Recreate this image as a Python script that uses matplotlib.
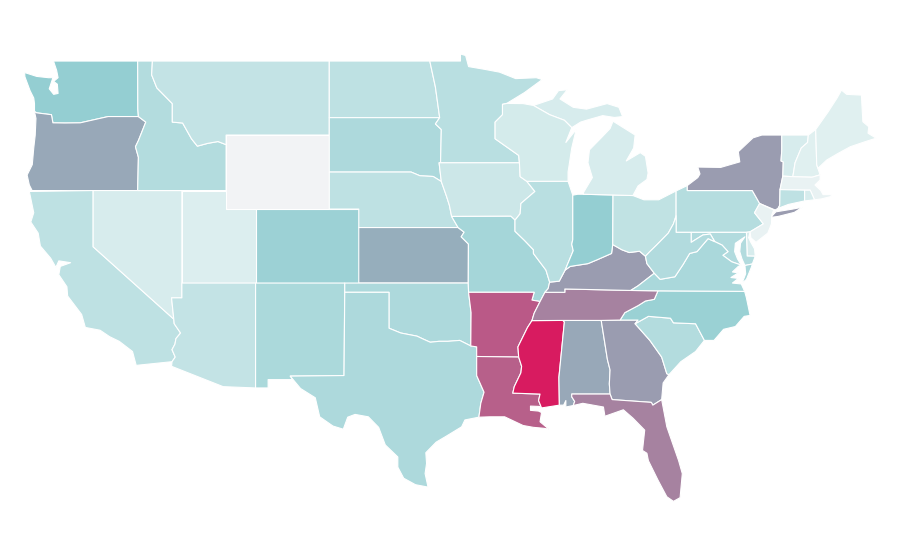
import matplotlib
matplotlib.use("Agg")
import matplotlib.pyplot as plt
from matplotlib.colors import LinearSegmentedColormap, Normalize

# ---- shared borders (lon, lat) ----
STCROIX = [(-92.01,46.71),(-92.3,46.66),(-92.3,46.1),(-92.8,45.7),(-92.8,44.8),(-91.2,43.9),(-91.15,43.5)]
MISS_A = [(-91.15,43.5),(-91.1,42.75),(-90.65,42.5)]
MISS_B = [(-90.65,42.5),(-90.1,41.95),(-91.05,41.3),(-91.1,40.75),(-91.45,40.4)]
MISS_C = [(-91.45,40.4),(-91.45,39.8),(-90.8,39.3),(-90.2,38.8),(-90.2,38.6),(-89.35,37.7),(-89.1,37.05)]
MISS_D = [(-89.1,37.05),(-89.2,36.7),(-89.42,36.5)]
MISS_E = [(-89.42,36.5),(-89.75,36.0)]
MISS_F = [(-89.75,36.0),(-90.15,35.37),(-90.3,34.97)]
MISS_G = [(-90.3,34.97),(-90.6,34.6),(-91.25,33.55),(-91.2,33.0)]
MISS_H = [(-91.2,33.0),(-91.0,32.5),(-91.05,32.15),(-91.5,31.4),(-91.6,31.05)]
OHIO_W = [(-84.82,39.08),(-84.9,38.6),(-85.9,38.25),(-86.5,38.05),(-87.7,37.9),(-88.05,37.7)]
OHIO_X = [(-88.05,37.7),(-88.45,37.1),(-89.1,37.05)]
OHIO_E = [(-82.6,38.45),(-83.0,38.72),(-83.7,38.65),(-84.2,38.8),(-84.82,39.08)]
OHIO_WV = [(-80.52,40.64),(-80.7,40.2),(-81.05,39.7),(-81.85,39.05),(-82.3,38.7),(-82.6,38.45)]
WABASH = [(-87.53,39.35),(-87.6,39.1),(-87.5,38.75),(-88.05,37.7)]
COLUMBIA = [(-117.0,46.0),(-119.05,46.0),(-120.95,45.66),(-122.0,45.65),(-122.8,45.66),(-122.9,46.1),(-123.9,46.2),(-124.05,46.27)]
SNAKE = [(-117.04,46.42),(-117.0,46.0),(-116.5,45.7),(-116.8,45.1),(-117.0,44.7),(-117.2,44.37),(-117.0,43.8),(-117.05,42.0)]
BITTER = [(-116.05,49.0),(-116.1,48.25),(-115.75,47.55),(-114.7,46.7),(-114.7,45.7),(-114.0,45.65),(-113.4,44.8),(-113.0,44.4),(-112.3,44.55),(-111.6,44.65),(-111.05,44.48)]
COLORADO = [(-114.75,36.2),(-114.6,35.05),(-114.57,34.8),(-114.14,34.3),(-114.45,34.0),(-114.52,33.7),(-114.72,33.4),(-114.5,33.0),(-114.72,32.75)]
MISSOURI_SD = [(-96.45,42.49),(-97.0,42.76),(-97.9,42.8),(-98.5,43.0)]
MISSOURI_IA = [(-96.45,42.49),(-96.1,41.7),(-95.9,41.2),(-95.75,40.6)]
MISSOURI_KS = [(-95.31,40.0),(-94.9,39.75),(-95.1,39.5),(-94.61,39.11)]
RED = [(-94.45,33.6),(-95.2,33.9),(-96.0,33.85),(-96.6,33.85),(-97.2,33.8),(-97.7,33.98),(-98.1,34.13),(-99.2,34.3),(-100.0,34.56)]
SABINE = [(-94.05,32.0),(-93.55,31.1),(-93.77,30.5),(-93.9,29.75)]
CHATT = [(-85.6,34.98),(-85.18,32.87),(-85.0,32.3),(-85.05,31.55),(-85.0,31.0)]
SAVANNAH = [(-83.3,34.8),(-82.3,33.9),(-81.5,33.0),(-81.15,32.1),(-81.0,32.05)]
NC_SC = [(-83.3,34.8),(-82.4,35.2),(-80.9,35.1),(-80.7,34.85),(-79.2,34.8),(-78.6,33.9)]
TN_NC = [(-84.32,35.0),(-84.0,35.4),(-83.1,35.78),(-82.6,36.03),(-82.0,36.12),(-81.75,36.58)]
KY_TOP_S = [(-83.6,36.6),(-88.07,36.68),(-88.07,36.5),(-89.42,36.5)]
KY_VA = [(-83.6,36.6),(-83.1,36.85),(-82.0,37.53)]
KY_WV = [(-82.0,37.53),(-82.5,38.05),(-82.6,38.45)]
VA_WV = [(-82.0,37.53),(-81.6,37.2),(-80.6,37.34),(-80.05,38.0),(-79.6,38.6),(-79.1,38.7),(-78.35,39.4),(-77.9,39.24)]
POTOMAC = [(-77.9,39.24),(-77.4,39.05),(-77.0,38.7),(-77.35,38.5),(-76.75,38.15),(-76.1,37.97)]
MD_WV = [(-77.9,39.24),(-78.2,39.65),(-78.7,39.6),(-79.5,39.2),(-79.5,39.74)]
CONN_R = [(-71.55,45.0),(-71.6,44.6),(-72.03,44.3),(-72.45,43.5),(-72.6,42.75)]
NY_VT = [(-73.35,45.0),(-73.35,44.2),(-73.4,43.6),(-73.25,43.55),(-73.28,42.78)]
NY_CT = [(-73.47,42.05),(-73.49,41.2),(-73.6,41.04)]
DELAWARE = [(-75.35,42.0),(-74.85,41.3),(-75.2,40.8),(-74.6,40.2),(-75.5,39.77)]
NH_ME = [(-71.05,45.3),(-70.98,43.4),(-70.9,43.2)]
MI_WI = [(-90.2,46.6),(-89.1,46.1),(-88.1,45.8),(-87.6,45.4)]

def join(*parts):
    out = []
    for p in parts:
        out.extend(p)
    return out

# ---- state outlines (lon, lat) ----
STATES = {
 "WA": [join([(-122.76,49.0),(-117.05,49.0),(-117.04,46.42)],COLUMBIA,[(-124.05,46.7),(-124.1,47.0),(-124.35,47.4),(-124.7,48.15),(-124.72,48.38),(-123.9,48.17),(-123.1,48.1),(-122.8,48.1),(-123.05,47.5),(-122.75,47.2),(-122.45,47.25),(-122.5,47.75),(-122.75,47.9),(-122.45,48.1),(-122.55,48.5)])],
 "OR": [join(COLUMBIA[::-1],SNAKE[2:],[(-124.21,42.0),(-124.4,42.3),(-124.55,42.84),(-124.2,43.4),(-124.1,44.3),(-124.0,45.0),(-123.95,45.9)])],
 "CA": [join([(-124.4,41.95),(-120.07,42.0),(-120.07,38.96)],COLORADO[1:],[(-117.15,32.55),(-117.4,33.3),(-118.3,33.85),(-118.95,34.1),(-119.6,34.45),(-120.6,34.6),(-120.85,35.3),(-121.8,36.3),(-121.85,36.8),(-122.4,37.45),(-122.3,37.9),(-121.6,38.1),(-122.4,38.2),(-122.6,37.85),(-122.95,38.34),(-123.65,39.0),(-123.8,39.7),(-124.3,40.3),(-124.1,40.8)])],
 "NV": [join([(-120.07,42.0),(-114.05,42.0),(-114.05,36.2)],COLORADO[:2],[(-120.07,38.96)])],
 "ID": [join([(-117.05,49.0)],BITTER,[(-111.05,42.0)],SNAKE[::-1])],
 "MT": [join(BITTER,[(-111.05,45.0),(-104.05,45.0),(-104.05,49.0)])],
 "WY": [[(-111.05,45.0),(-104.05,45.0),(-104.05,41.0),(-111.05,41.0)]],
 "UT": [[(-114.05,42.0),(-111.05,42.0),(-111.05,41.0),(-109.05,41.0),(-109.05,37.0),(-114.05,37.0)]],
 "CO": [[(-109.05,41.0),(-102.05,41.0),(-102.05,37.0),(-109.05,37.0)]],
 "AZ": [join([(-114.05,37.0),(-109.05,37.0),(-109.05,31.33),(-111.25,31.4),(-114.75,32.5)],COLORADO[::-1],[(-114.05,36.2)])],
 "NM": [[(-109.05,37.0),(-103.0,37.0),(-103.05,32.0),(-106.7,31.97),(-106.53,31.78),(-108.2,31.78),(-108.2,31.33),(-109.05,31.33)]],
 "ND": [[(-104.05,49.0),(-97.23,49.0),(-96.85,47.6),(-96.56,45.94),(-104.05,45.94)]],
 "SD": [join([(-104.05,45.94),(-96.56,45.94),(-96.85,45.6),(-96.45,45.3),(-96.5,43.5),(-96.6,43.5)],MISSOURI_SD,[(-104.05,43.0)])],
 "NE": [join([(-104.05,43.0)],MISSOURI_SD[::-1],MISSOURI_IA[1:],[(-95.31,40.0),(-102.05,40.0),(-102.05,41.0),(-104.05,41.0)])],
 "KS": [join([(-102.05,40.0)],MISSOURI_KS,[(-94.62,37.0),(-102.05,37.0)])],
 "OK": [join([(-103.0,37.0),(-94.62,37.0),(-94.6,36.5),(-94.43,35.4)],RED,[(-100.0,36.5),(-103.0,36.5)])],
 "TX": [join([(-103.0,36.5),(-100.0,36.5)],RED[::-1],[(-94.05,33.55)],SABINE,[(-94.85,29.6),(-95.07,29.23),(-96.1,28.73),(-96.8,28.4),(-97.5,27.83),(-97.45,27.25),(-97.55,26.7),(-97.35,25.97),(-98.2,26.1),(-99.0,26.45),(-99.4,27.05),(-99.4,27.6),(-100.25,28.25),(-100.7,29.2),(-101.4,29.77),(-102.3,29.9),(-102.8,29.75),(-103.1,29.1),(-103.8,29.27),(-104.7,29.77),(-105.0,30.8),(-106.0,31.3),(-106.7,31.97),(-103.05,32.0)])],
 "MN": [join([(-97.23,49.0),(-95.15,49.0),(-95.15,49.38),(-94.8,49.3),(-94.6,48.7),(-93.5,48.55),(-92.5,48.4),(-91.4,48.05),(-90.0,48.1),(-89.6,48.0),(-90.8,47.3)],STCROIX,[(-96.5,43.5),(-96.45,45.3),(-96.85,45.6),(-96.56,45.94),(-96.85,47.6)])],
 "IA": [join([(-96.6,43.5)],MISS_A,MISS_B[1:],[(-91.73,40.61)],MISSOURI_IA[::-1])],
 "MO": [join([(-95.75,40.6),(-91.73,40.61)],MISS_C,MISS_D[1:],MISS_E[1:],[(-90.3,36.08),(-90.15,36.5),(-94.6,36.5),(-94.62,37.0)],MISSOURI_KS[::-1])],
 "AR": [join([(-94.6,36.5),(-90.15,36.5),(-90.3,36.08)],MISS_F,MISS_G[1:],[(-94.05,33.03),(-94.05,33.55),(-94.45,33.6),(-94.43,35.4)])],
 "LA": [join([(-94.05,33.03)],MISS_H,[(-89.75,31.0),(-89.85,30.65),(-89.65,30.25),(-89.8,30.33),(-90.4,30.35),(-90.4,30.12),(-89.85,30.08),(-89.65,30.0),(-89.75,29.5),(-89.15,29.1),(-89.5,29.15),(-90.2,29.2),(-90.9,29.3),(-92.15,29.77),(-93.15,29.77)],SABINE[::-1])],
 "MS": [join(MISS_G,MISS_H[1:],[(-89.75,31.0),(-89.85,30.65),(-89.65,30.25),(-88.44,30.4),(-88.47,31.9),(-88.1,34.9),(-88.2,34.98)])],
 "AL": [join([(-88.2,34.98)],CHATT,[(-87.6,31.0),(-87.6,30.85),(-87.4,30.6),(-87.5,30.38),(-88.0,30.3),(-88.0,30.65),(-88.15,30.4),(-88.44,30.4),(-88.47,31.9),(-88.1,34.9)])],
 "GA": [join(CHATT,[(-84.86,30.7),(-82.2,30.55),(-82.1,30.4),(-81.5,30.7),(-81.4,31.6)],SAVANNAH[::-1],[(-83.1,35.0),(-84.32,35.0)])],
 "FL": [[(-87.6,31.0),(-85.0,31.0),(-84.86,30.7),(-82.2,30.55),(-82.1,30.4),(-81.5,30.7),(-81.15,29.23),(-80.35,27.4),(-80.1,26.7),(-80.25,25.4),(-80.7,25.2),(-81.15,25.45),(-81.75,26.35),(-82.4,27.4),(-82.5,27.8),(-82.8,27.95),(-82.65,29.05),(-83.45,29.7),(-84.1,30.15),(-85.35,29.8),(-85.45,30.3),(-86.85,30.5),(-87.5,30.38),(-87.4,30.6),(-87.6,30.85)]],
 "SC": [join(SAVANNAH,[(-80.2,32.75),(-79.2,33.3)],NC_SC[::-1])],
 "NC": [join(TN_NC,[(-75.87,36.55),(-75.75,36.2),(-75.5,35.25),(-75.9,35.2),(-76.5,34.65),(-77.3,34.5),(-77.95,33.9)],NC_SC[::-1],[(-83.1,35.0)])],
 "TN": [join(MISS_F,[(-88.2,34.98),(-85.6,34.98)],TN_NC,KY_TOP_S,MISS_E[1:])],
 "KY": [join(KY_TOP_S,MISS_D[::-1],OHIO_X[::-1],OHIO_W[::-1],OHIO_E[::-1],KY_WV[::-1],KY_VA[::-1])],
 "IL": [join([(-90.65,42.5),(-87.85,42.5),(-87.53,41.75)],WABASH,OHIO_X[1:],MISS_C[::-1][1:],MISS_B[::-1][1:])],
 "IN": [join([(-87.53,41.75),(-87.2,41.8),(-86.82,41.8),(-84.8,41.76)],OHIO_W,WABASH[::-1][1:])],
 "OH": [join([(-84.8,41.76),(-83.45,41.73),(-82.7,41.5),(-81.7,41.5),(-80.52,41.98)],OHIO_WV,OHIO_E[1:])],
 "MI": [[(-86.82,41.8),(-84.8,41.76),(-83.45,41.73),(-83.1,42.25),(-82.5,42.6),(-82.42,42.95),(-82.6,43.85),(-82.95,44.05),(-83.9,43.6),(-83.4,44.3),(-83.3,45.0),(-84.8,45.75),(-85.0,45.35),(-85.6,44.85),(-86.4,44.2),(-86.5,43.5),(-86.2,42.7),(-86.8,41.9)],
        join([(-90.2,46.6),(-88.9,46.95),(-88.5,47.4),(-87.9,47.45),(-88.4,46.95),(-87.5,46.5),(-86.6,46.4),(-85.2,46.7),(-84.4,46.5),(-84.15,46.0),(-84.7,45.95),(-85.5,46.05),(-86.6,45.8),(-87.0,45.7)],MI_WI[::-1])],
 "WI": [join([(-92.01,46.71),(-90.9,46.7)],MI_WI,[(-88.0,44.6),(-87.3,45.3),(-87.6,44.3),(-87.85,43.0),(-87.85,42.5)],MISS_A[::-1],STCROIX[::-1][1:])],
 "PA": [join([(-80.52,41.98),(-79.76,42.27),(-79.76,42.0)],DELAWARE,[(-75.75,39.74),(-80.52,39.74)])],
 "NY": [join([(-79.76,42.27),(-79.05,42.7),(-78.9,42.9),(-79.05,43.27),(-77.5,43.25),(-76.2,43.55),(-76.3,44.1),(-75.3,44.85),(-74.7,45.0)],NY_VT,NY_CT,[(-73.8,40.95),(-74.85,41.3),(-75.35,42.0),(-79.76,42.0)]),
        [(-74.1,40.55),(-73.75,40.85),(-72.6,41.0),(-71.95,41.1),(-72.5,40.82),(-73.6,40.6)]],
 "VT": [join(NY_VT[:1],CONN_R,NY_VT[::-1][:-1])],
 "NH": [join(CONN_R[:1],NH_ME,[(-70.75,42.85),(-71.3,42.72)],CONN_R[::-1][:-1])],
 "ME": [join(NH_ME[:1],[(-70.2,46.26),(-69.6,47.0),(-69.3,47.43),(-68.95,47.2),(-67.95,47.16),(-67.85,45.72),(-67.45,45.45),(-67.5,45.1),(-66.95,44.83),(-67.7,44.64),(-68.7,44.37),(-69.55,44.0),(-70.3,43.65)],NH_ME[::-1][:-1])],
 "MA": [[(-73.47,42.05),(-73.28,42.78),(-72.6,42.75),(-71.3,42.72),(-70.75,42.85),(-70.75,42.57),(-71.1,42.3),(-70.7,42.0),(-70.55,41.78),(-70.0,41.78),(-70.0,41.68),(-70.65,41.55),(-71.13,41.5),(-71.42,42.02),(-71.8,42.02)]],
 "CT": [join([(-73.47,42.05),(-71.8,42.02),(-71.8,41.44),(-72.9,41.25)],NY_CT[::-1][:-1])],
 "RI": [[(-71.8,42.02),(-71.42,42.02),(-71.13,41.5),(-71.8,41.44)]],
 "NJ": [join([(-74.85,41.3),(-73.9,40.95),(-74.03,40.68),(-74.05,40.2),(-74.3,39.7),(-75.1,39.2),(-75.45,39.45)],DELAWARE[::-1][:-1])],
 "DE": [[(-75.75,39.74),(-75.5,39.77),(-75.6,39.45),(-75.45,39.2),(-75.2,38.85),(-75.15,38.45),(-75.7,38.46)]],
 "MD": [join(MD_WV[::-1][:1],[(-75.75,39.74),(-75.7,38.46),(-75.15,38.45),(-75.35,38.03),(-75.85,37.95),(-76.05,38.3),(-76.2,38.7),(-76.15,39.15),(-75.85,39.5),(-76.5,39.15),(-76.55,38.7),(-76.35,38.3)],POTOMAC[::-1],MD_WV[1:-1])],
 "VA": [join(KY_VA,VA_WV[1:],POTOMAC[1:],[(-76.3,37.9),(-76.7,37.6),(-76.3,37.55),(-76.8,37.3),(-76.3,37.25),(-76.7,37.0),(-76.1,36.95),(-75.87,36.55),(-81.75,36.58)]),
        [(-75.35,38.03),(-75.85,37.95),(-75.8,37.5),(-76.05,36.98),(-75.75,37.2),(-75.4,37.88)]],
 "WV": [join(OHIO_WV,KY_WV[::-1],VA_WV[1:],MD_WV[1:],[(-80.52,39.74)])],
}

# ---- values per state ----
STATE_CODES = ["WA","OR","CA","NV","ID","MT","WY","UT","CO","AZ","NM","ND","SD","NE","KS","OK","TX","MN","IA","MO","AR","LA","MS","AL","GA","FL","SC","NC","TN","KY","IL","IN","OH","MI","WI","PA","NY","VT","NH","ME","MA","CT","RI","NJ","DE","MD","VA","WV"]
STATE_VALUES = [14.5,22.7,8.1,4.4,9.8,7.3,0.0,3.7,13.3,7.3,10.8,8.1,10.7,8.1,21.3,10.7,10.7,8.9,6.0,11.9,42.9,41.3,60.0,22.5,25.0,32.0,9.8,13.5,32.0,25.0,8.9,14.4,7.8,4.4,4.9,9.6,25.0,4.4,2.9,2.9,1.6,8.1,4.4,1.6,4.4,10.0,11.1,10.0]

VMAX = 60.0
COLOR_STOPS = [(0.0,"#f2f3f5"),(3.0/VMAX,"#dff0f0"),(15.0/VMAX,"#90ccd0"),(25.0/VMAX,"#9a9cb0"),(1.0,"#d81b60")]
cmap = LinearSegmentedColormap.from_list("rate", COLOR_STOPS)
norm = Normalize(0, VMAX)

fig = plt.figure(figsize=(9, 5.6), dpi=100)
ax = fig.add_axes([0, 0, 1, 1])
for code, value in zip(STATE_CODES, STATE_VALUES):
    for ring in STATES[code]:
        xs = [p[0] for p in ring]
        ys = [p[1] for p in ring]
        ax.fill(xs, ys, facecolor=cmap(norm(value)), edgecolor="white", linewidth=0.8, joinstyle="round")
ax.set_xlim(-126.39, -65.33)
ax.set_ylim(22.03, 52.3)
ax.axis("off")
fig.savefig("out.png", dpi=100, facecolor="white")
